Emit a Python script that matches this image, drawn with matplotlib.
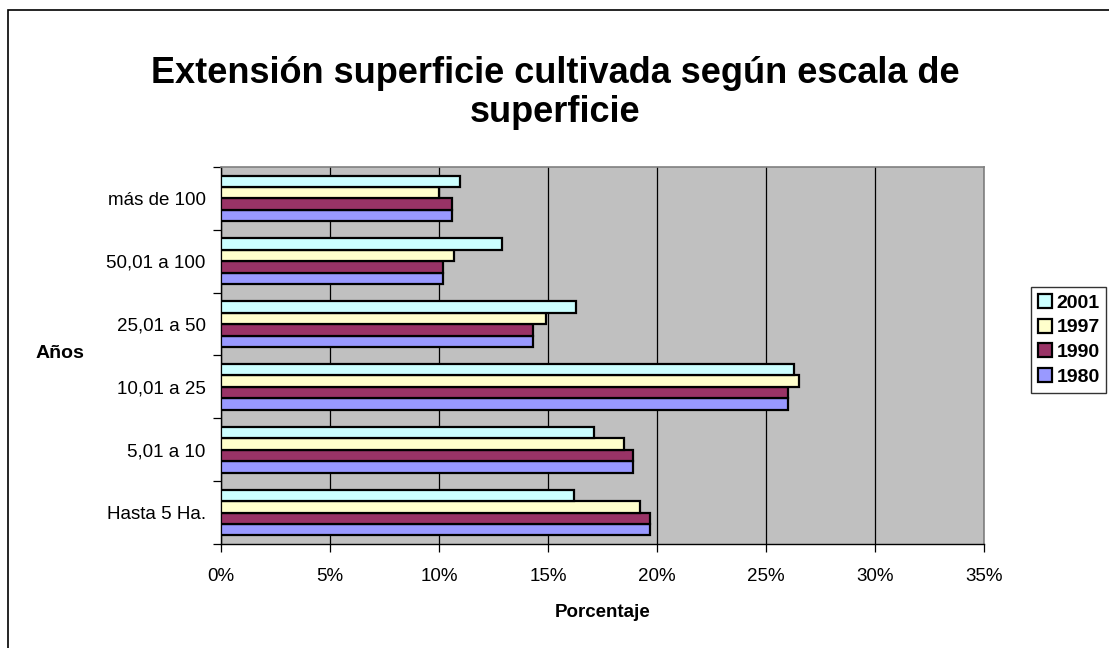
import numpy as np
import matplotlib.pyplot as plt
from matplotlib.patches import Rectangle

plt.rcParams['font.family'] = ['Liberation Sans', 'DejaVu Sans']

# Datos (porcentaje de superficie)
categorias = ['Hasta 5 Ha.', '5,01 a 10', '10,01 a 25', '25,01 a 50', '50,01 a 100', 'más de 100']
v1980 = [19.7, 18.9, 26.0, 14.3, 10.2, 10.6]
v1990 = [19.7, 18.9, 26.0, 14.3, 10.2, 10.6]
v1997 = [19.2, 18.5, 26.5, 14.9, 10.7, 10.0]
v2001 = [16.2, 17.1, 26.3, 16.3, 12.9, 10.95]

series = [('1980', v1980, '#9999FF'),
          ('1990', v1990, '#993366'),
          ('1997', v1997, '#FFFFCC'),
          ('2001', v2001, '#CCFFFF')]

fig = plt.figure(figsize=(11.09, 6.48), dpi=100)
ax = fig.add_axes([221/1109, 1 - 544/648, (984-221)/1109, (544-167)/648])

# borde exterior del grafico (recortado a la derecha y abajo)
fig.patches.append(Rectangle((8/1109, -0.1), 1.2, 1 - 10/648 + 0.1, transform=fig.transFigure,
                             fill=False, edgecolor='black', linewidth=1.2))

y = np.arange(len(categorias))
h = 1 / 5.5
barras = []
for i, (nombre, vals, col) in enumerate(series):
    b = ax.barh(y - 2*h + (i + 0.5)*h, [v/100 for v in vals], height=h, color=col,
                edgecolor='black', linewidth=1.6, label=nombre, zorder=3)
    barras.append(b)

ax.set_facecolor('#C0C0C0')
ax.set_xlim(0, 0.35)
ax.set_ylim(-0.5, len(categorias) - 0.5)
ax.set_xticks(np.arange(0, 0.351, 0.05))
ax.set_xticklabels(['%d%%' % round(t*100) for t in np.arange(0, 0.351, 0.05)])
ax.xaxis.grid(True, color='black', linewidth=0.9, zorder=1)
ax.set_axisbelow(True)

ax.set_yticks(y)
ax.set_yticklabels(categorias)
ax.set_yticks(np.arange(-0.5, len(categorias)), minor=True)
ax.tick_params(axis='y', which='major', length=0, pad=11, labelsize=13.5)
ax.tick_params(axis='y', which='minor', length=6, width=0.9, direction='out')
ax.tick_params(axis='x', length=6, width=0.9, direction='out', pad=11, labelsize=13.5)

for s in ['top', 'right']:
    ax.spines[s].set_color('#808080')
    ax.spines[s].set_linewidth(1.2)
for s in ['left', 'bottom']:
    ax.spines[s].set_linewidth(1.0)

ax.set_xlabel('Porcentaje', fontsize=13.5, fontweight='bold', labelpad=14)
fig.text(60/1109, 1 - 354/648, 'Años', fontsize=14, fontweight='bold', ha='center', va='center')

fig.text(555/1109, 1 - 93/648, 'Extensión superficie cultivada según escala de\nsuperficie',
         fontsize=26, fontweight='bold', ha='center', va='center', linespacing=1.15)

handles = [barras[3], barras[2], barras[1], barras[0]]
leg = fig.legend(handles, ['2001', '1997', '1990', '1980'], loc='upper left',
                 bbox_to_anchor=(1031/1109, 1 - 287/648), frameon=True, fancybox=False,
                 prop={'weight': 'bold', 'size': 14}, handlelength=0.75, handleheight=0.75,
                 handletextpad=0.2, labelspacing=0.35, borderpad=0.35, borderaxespad=0)
leg.get_frame().set_edgecolor('black')
leg.get_frame().set_linewidth(1.0)

fig.savefig('out.png', dpi=100)
